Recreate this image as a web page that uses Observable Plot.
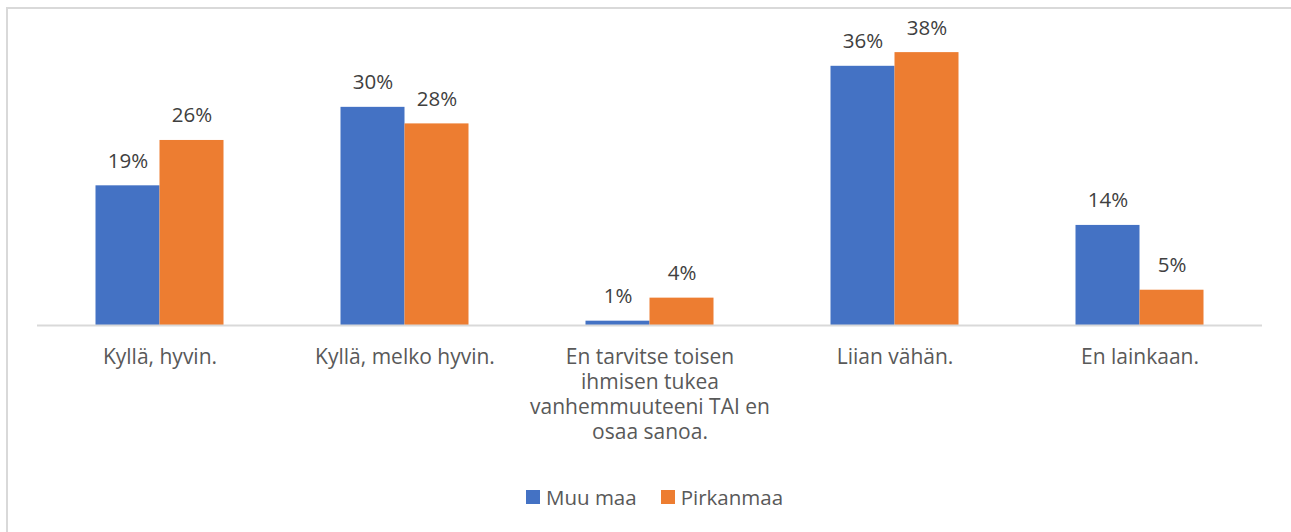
<!DOCTYPE html>
<html>
<head>
<meta charset="utf-8">
<script src="https://cdn.jsdelivr.net/npm/d3@7"></script>
<script src="https://cdn.jsdelivr.net/npm/@observablehq/plot@0.6"></script>
<style>
  html, body { margin: 0; padding: 0; background: #fff; overflow: hidden; }
  body { width: 1291px; height: 532px; position: relative; font-family: "Open Sans", "Noto Sans", sans-serif; }
  #frame { position: absolute; left: 6px; top: 7px; width: 1400px; height: 600px; border-left: 2px solid #d9d9d9; border-top: 2px solid #d9d9d9; box-sizing: border-box; }
  #chart { position: absolute; left: 0; top: 0; }
  #legend { position: absolute; left: 9px; width: 1291px; top: 483px; display: flex; justify-content: center; gap: 24px; font-size: 20.5px; color: #595959; }
  .item { display: flex; align-items: center; gap: 6px; }
  .sw { width: 14px; height: 14px; display: inline-block; }
</style>
</head>
<body>
<div id="frame"></div>
<div id="chart"></div>
<div id="legend"></div>
<script>
const categories = ["Kyllä, hyvin.", "Kyllä, melko hyvin.", "En tarvitse toisen ihmisen tukea vanhemmuuteeni TAI en osaa sanoa.", "Liian vähän.", "En lainkaan."];
const tickLabels = ["Kyllä, hyvin.", "Kyllä, melko hyvin.", "En tarvitse toisen\nihmisen tukea\nvanhemmuuteeni TAI en\nosaa sanoa.", "Liian vähän.", "En lainkaan."];
const series = ["Muu maa", "Pirkanmaa"];
const colors = ["#4472C4", "#ED7D31"];
const muuMaa = [19.4, 30.3, 0.6, 36.0, 13.9];
const pirkanmaa = [25.7, 28.0, 3.8, 37.9, 4.9];

const data = [];
categories.forEach((c, i) => {
  data.push({cat: c, series: series[0], value: muuMaa[i]});
  data.push({cat: c, series: series[1], value: pirkanmaa[i]});
});
const labelOf = new Map(categories.map((c, i) => [c, tickLabels[i]]));

const chart = Plot.plot({
  width: 1291,
  height: 470,
  marginLeft: 36.5,
  marginRight: 29.5,
  marginTop: 37,
  marginBottom: 145,
  style: {fontFamily: "'Open Sans', 'Noto Sans', sans-serif", fontSize: "20px", background: "transparent"},
  fx: {domain: categories, padding: 0, label: null},
  x: {domain: series, paddingInner: 0, paddingOuter: 0.914, axis: null},
  y: {domain: [0, 40], axis: null},
  color: {domain: series, range: colors},
  marks: [
    Plot.barY(data, {fx: "cat", x: "series", y: "value", fill: "series"}),
    Plot.text(data, {fx: "cat", x: "series", y: "value", text: d => Math.round(d.value) + "%", lineAnchor: "bottom", dy: -18, fill: "#404040", fontSize: 20.5}),
    Plot.ruleY([0], {stroke: "#d9d9d9", strokeWidth: 2}),
    Plot.axisFx({tickSize: 0, tickPadding: 21, tickFormat: d => labelOf.get(d), fill: "#595959", fontSize: 21, lineHeight: 1.19, label: null, anchor: "bottom", lineAnchor: "top"})
  ]
});
document.getElementById("chart").appendChild(chart);

const legend = document.getElementById("legend");
series.forEach((s, i) => {
  const item = document.createElement("span");
  item.className = "item";
  const sw = document.createElement("span");
  sw.className = "sw";
  sw.style.background = colors[i];
  item.appendChild(sw);
  item.appendChild(document.createTextNode(s));
  legend.appendChild(item);
});
</script>
</body>
</html>
